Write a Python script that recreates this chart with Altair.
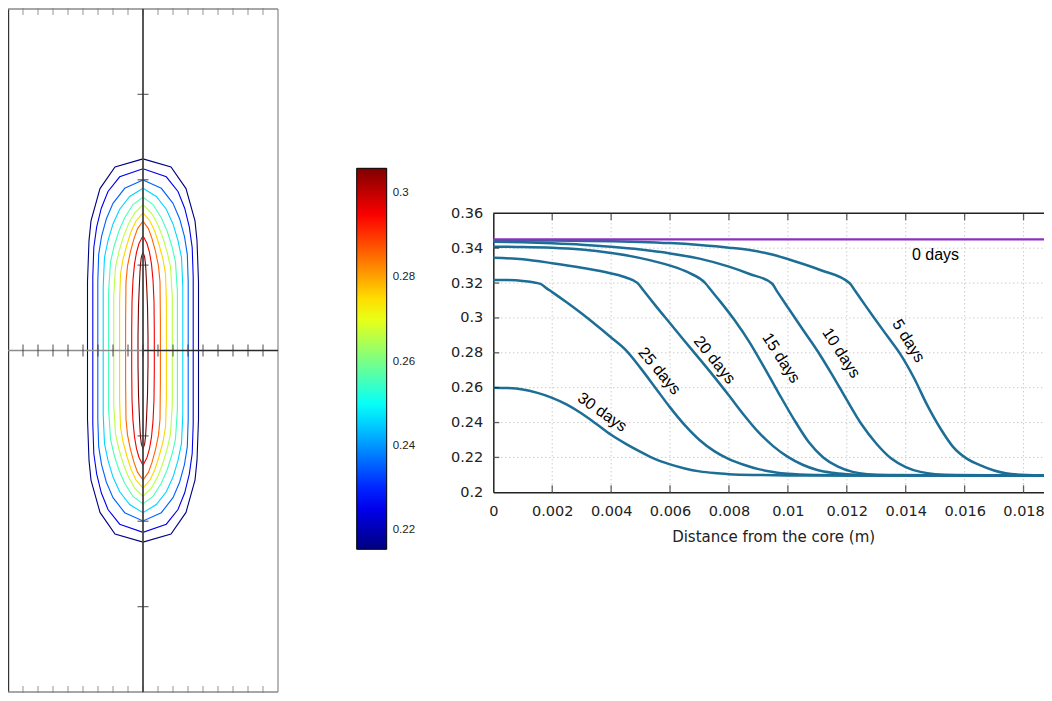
import altair as alt
import pandas as pd

# ================= right panel: profiles vs distance from the core =================
x_0d = [0.0, 0.019]
y_0d = [0.345, 0.345]

x_5d = [0.0, 0.002, 0.004, 0.005, 0.006, 0.007, 0.008, 0.0087, 0.0095, 0.0101, 0.0111, 0.0121, 0.0123,
        0.0125, 0.0129, 0.0134, 0.0138, 0.0143, 0.0147, 0.0152, 0.0156, 0.0161, 0.0165, 0.0170,
        0.0174, 0.0181, 0.019]
y_5d = [0.3445, 0.3444, 0.3440, 0.3436, 0.3429, 0.3418, 0.3403, 0.3389, 0.3362, 0.3332, 0.3275, 0.3199, 0.3151,
        0.3103, 0.3007, 0.2890, 0.2797, 0.2650, 0.2510, 0.2360, 0.2262, 0.2190, 0.2157, 0.2125,
        0.2109, 0.2099, 0.2096]

x_10d = [0.0, 0.001, 0.002, 0.003, 0.004, 0.005, 0.006, 0.007, 0.008, 0.0087, 0.00945, 0.00965,
         0.0100, 0.0105, 0.0110, 0.0115, 0.0120, 0.0125, 0.0130, 0.0135, 0.0140, 0.0145, 0.0150,
         0.0157, 0.019]
y_10d = [0.3437, 0.3434, 0.3428, 0.3420, 0.3408, 0.3392, 0.3370, 0.3340, 0.3294, 0.3252, 0.3199, 0.3148,
         0.3060, 0.2935, 0.2812, 0.2675, 0.2530, 0.2390, 0.2280, 0.2195, 0.2145, 0.2117, 0.2104,
         0.2099, 0.2096]

x_15d = [0.0, 0.001, 0.002, 0.003, 0.004, 0.005, 0.006, 0.0066, 0.0072, 0.0074,
         0.0077, 0.0082, 0.0087, 0.0092, 0.0097, 0.0102, 0.0107, 0.0112, 0.0117, 0.0122, 0.0127,
         0.0134, 0.019]
y_15d = [0.3408, 0.3407, 0.3403, 0.3392, 0.3372, 0.3343, 0.3300, 0.3262, 0.3199, 0.3157,
         0.3095, 0.2985, 0.2860, 0.2715, 0.2565, 0.2420, 0.2290, 0.2200, 0.2147, 0.2117, 0.2104,
         0.2099, 0.2096]

x_20d = [0.0, 0.001, 0.002, 0.003, 0.004, 0.0045, 0.0049, 0.0051, 0.0055, 0.006, 0.0065, 0.007, 0.0075,
         0.008, 0.0085, 0.009, 0.0095, 0.010, 0.0105, 0.011, 0.0115, 0.012, 0.013, 0.019]
y_20d = [0.3345, 0.3336, 0.3314, 0.3288, 0.3255, 0.3232, 0.3199, 0.3157, 0.3072, 0.2969, 0.2866, 0.2765, 0.2662,
         0.2555, 0.2445, 0.2345, 0.2265, 0.2203, 0.2158, 0.2128, 0.2112, 0.2104, 0.2098, 0.2096]

x_25d = [0.0, 0.0005, 0.001, 0.0016, 0.0018, 0.002, 0.0025, 0.003, 0.0035, 0.004, 0.0045, 0.005, 0.0055,
         0.006, 0.0065, 0.007, 0.0075, 0.008, 0.0085, 0.009, 0.0095, 0.010, 0.011, 0.012, 0.019]
y_25d = [0.3218, 0.3217, 0.3212, 0.3195, 0.3171, 0.3148, 0.3088, 0.3025, 0.2958, 0.2888, 0.2815, 0.2712, 0.2600,
         0.2487, 0.2385, 0.2300, 0.2236, 0.2190, 0.2158, 0.2133, 0.2117, 0.2106, 0.2099, 0.2097, 0.2096]

x_30d = [0.0, 0.0005, 0.001, 0.0015, 0.002, 0.0025, 0.003, 0.0035, 0.004, 0.0045, 0.005, 0.0055,
         0.006, 0.0065, 0.007, 0.0075, 0.008, 0.009, 0.010, 0.012, 0.019]
y_30d = [0.2600, 0.2598, 0.2590, 0.2570, 0.2542, 0.2503, 0.2452, 0.2392, 0.2330, 0.2278, 0.2232, 0.2190,
         0.2160, 0.2137, 0.2120, 0.2110, 0.2104, 0.2099, 0.2097, 0.2096, 0.2096]

x_ticks = [0.0, 0.002, 0.004, 0.006, 0.008, 0.010, 0.012, 0.014, 0.016, 0.018]
y_ticks = [0.20, 0.22, 0.24, 0.26, 0.28, 0.30, 0.32, 0.34, 0.36]
x_domain = [0.0, 0.019]
y_domain = [0.20, 0.36]

label_text = ["30 days", "25 days", "20 days", "15 days", "10 days", "5 days", "0 days"]
label_x = [0.00370, 0.00564, 0.00751, 0.00977, 0.01181, 0.01409, 0.01501]
label_y = [0.2459, 0.2696, 0.2759, 0.2770, 0.2799, 0.2868, 0.3358]
label_angle = [35, 50, 51, 57, 57, 58, 0]

# ================= colour bar =================
cbar_min, cbar_max = 0.2154, 0.3059
cbar_ticks = [0.22, 0.24, 0.26, 0.28, 0.30]
jet_t = [0.0, 0.125, 0.375, 0.625, 0.875, 1.0]
jet_colors = ["#000080", "#0000ff", "#00ffff", "#ffff00", "#ff0000", "#800000"]

# ================= left panel: contour lines (one quadrant each, mirrored) =================
contour_levels = [0.2154, 0.2255, 0.2355, 0.2456, 0.2556, 0.2657, 0.2757, 0.2858, 0.2958, 0.3059]
contour_dx = [
    [0, 28, 43, 52, 54, 55.5, 55.5],
    [0, 23.3, 35, 41.7, 46.3, 49.2, 50.2, 50.2],
    [0, 18.3, 30, 36.7, 41.5, 44.3, 45.2, 45.2],
    [0, 13.3, 23.3, 30, 35, 38.5, 39.8, 39.8],
    [0, 10, 18.3, 24, 29, 32.5, 34.4, 34.4],
    [0, 8.3, 14.5, 19.5, 24, 27.5, 29.3, 29.3],
    [0, 7, 12, 16, 20, 22.5, 23.4, 23.4],
    [0, 5.5, 9, 12.5, 15.5, 17, 17.4, 17.4],
    [0, 4, 6.5, 8.5, 10, 11, 11.3, 11.3],
    [0, 1.7, 2.5, 3, 3.7, 4.5, 5, 5],
]
contour_dy = [
    [195.3, 187, 165, 132, 112, 70, 0],
    [185.3, 177, 162, 145, 126, 105, 75, 0],
    [173.7, 165.3, 150, 134, 116, 98, 70, 0],
    [165.3, 157, 144, 129, 112, 95, 65, 0],
    [156.3, 148.7, 135.3, 122, 106, 90, 60, 0],
    [148.7, 140.3, 129, 116, 101, 85, 55, 0],
    [140.3, 132, 121, 108, 93, 78, 50, 0],
    [132, 124, 114, 101, 86, 70, 30, 0],
    [117, 109, 100, 88, 72, 50, 20, 0],
    [100.3, 95, 88, 80, 65, 45, 15, 0],
]
panel_x = [-135, 135]
panel_y = [-348, 348]
edge_ticks = [-120, -105, -90, -75, -60, -45, -30, -15, 0, 15, 30, 45, 60, 75, 90, 105, 120]
axis_y_ticks = [-261, -174, -87, 87, 174, 261]

# ================= layout (pixels inside the view) =================
W, H = 1036, 685
R_XL, R_YL = [0, 270], [684, 1]
R_XR, R_YR = [485.3, 1045], [484.3, 205.3]
R_XC, R_YC = [348.7, 378.7], [541.3, 160.3]


def scale(domain, rng):
    return alt.Scale(domain=domain, range=rng, nice=False, zero=False)


def ex(field, domain, rng, axis=None):
    return alt.X(field, type="quantitative", scale=scale(domain, rng), axis=axis)


def ey(field, domain, rng, axis=None):
    return alt.Y(field, type="quantitative", scale=scale(domain, rng), axis=axis)


def xr(f, axis=None):
    return ex(f, x_domain, R_XR, axis)


def yr(f, axis=None):
    return ey(f, y_domain, R_YR, axis)


def xl(f):
    return ex(f, panel_x, R_XL)


def yl(f):
    return ey(f, panel_y, R_YL)


def xc(f):
    return ex(f, [0, 1], R_XC)


def yc(f):
    return ey(f, [cbar_min, cbar_max], R_YC)


layers = []

# ---------- left panel ----------
rows = []
for lid, (lev, dxs, dys) in enumerate(zip(contour_levels, contour_dx, contour_dy)):
    q = list(zip(dxs, dys))
    loop = (q + [(dx, -dy) for dx, dy in reversed(q[:-1])]
            + [(-dx, -dy) for dx, dy in q[1:]]
            + [(-dx, dy) for dx, dy in reversed(q[:-1])])
    for i, (px, py) in enumerate(loop):
        rows.append({"lid": lid, "level": lev, "idx": i, "x": px, "y": py})
contour_df = pd.DataFrame(rows)

jet_domain = [cbar_min + t * (cbar_max - cbar_min) for t in jet_t]
color_scale = alt.Scale(type="linear", domain=jet_domain, range=jet_colors, interpolate="rgb")
legend = alt.Legend(orient="none", legendX=R_XC[0], legendY=R_YC[1], direction="vertical",
                    gradientLength=R_YC[0] - R_YC[1], gradientThickness=R_XC[1] - R_XC[0],
                    gradientStrokeColor="#000000", gradientStrokeWidth=1,
                    values=cbar_ticks, format=".2~f", labelFont="Liberation Sans",
                    labelFontSize=11.5, labelColor="#222222", labelOffset=6, title=None, padding=0)

layers.append(
    alt.Chart(contour_df).mark_line(strokeWidth=1.1).encode(
        x=xl("x"), y=yl("y"), order=alt.Order("idx:Q"), detail="lid:N",
        color=alt.Color("level:Q", scale=color_scale, legend=legend))
)

# frame of the left panel
frame_specs = [
    ({"x": [panel_x[0]], "y0": [panel_y[0]], "y1": [panel_y[1]]}, "#333333", "v", 2.4),
    ({"x": [panel_x[1]], "y0": [panel_y[0]], "y1": [panel_y[1]]}, "#a0a0a0", "v", 1.5),
    ({"y": [panel_y[1]], "x0": [panel_x[0]], "x1": [panel_x[1]]}, "#8a8a8a", "h", 1.5),
    ({"y": [panel_y[0]], "x0": [panel_x[0]], "x1": [panel_x[1]]}, "#8a8a8a", "h", 1.5),
]
for d, col, kind, sw in frame_specs:
    c = alt.Chart(pd.DataFrame(d)).mark_rule(color=col, strokeWidth=sw)
    if kind == "v":
        layers.append(c.encode(x=xl("x"), y=yl("y0"), y2="y1"))
    else:
        layers.append(c.encode(y=yl("y"), x=xl("x0"), x2="x1"))

# edge ticks (top / bottom)
for yy in panel_y:
    layers.append(
        alt.Chart(pd.DataFrame({"x": edge_ticks, "y": yy})).mark_tick(
            orient="vertical", size=12, thickness=1.2, color="#808080").encode(x=xl("x"), y=yl("y"))
    )

# crosshair
layers.append(
    alt.Chart(pd.DataFrame({"y": [0], "x0": [panel_x[0]], "x1": [0]})).mark_rule(
        color="#8c8c8c", strokeWidth=1.6).encode(y=yl("y"), x=xl("x0"), x2="x1"))
layers.append(
    alt.Chart(pd.DataFrame({"y": [0], "x0": [0], "x1": [panel_x[1]]})).mark_rule(
        color="#2a2a2a", strokeWidth=1.4).encode(y=yl("y"), x=xl("x0"), x2="x1"))
layers.append(
    alt.Chart(pd.DataFrame({"x": [0], "y0": [panel_y[0]], "y1": [panel_y[1]]})).mark_rule(
        color="#444444", strokeWidth=1.8).encode(x=xl("x"), y=yl("y0"), y2="y1"))
layers.append(
    alt.Chart(pd.DataFrame({"x": edge_ticks, "y": 0})).mark_tick(
        orient="vertical", size=12, thickness=1.3, color="#3a3a3a").encode(x=xl("x"), y=yl("y")))
layers.append(
    alt.Chart(pd.DataFrame({"x": 0, "y": axis_y_ticks})).mark_tick(
        orient="horizontal", size=11, thickness=1.3, color="#333333").encode(x=xl("x"), y=yl("y")))

# ---------- colour bar tick marks ----------
layers.append(
    alt.Chart(pd.DataFrame({"x": 0, "y": cbar_ticks})).mark_tick(
        orient="horizontal", size=3, thickness=1, xOffset=1.5, color="#000000").encode(x=xc("x"), y=yc("y")))
layers.append(
    alt.Chart(pd.DataFrame({"x": 1, "y": cbar_ticks})).mark_tick(
        orient="horizontal", size=3, thickness=1, xOffset=-1.5, color="#000000").encode(x=xc("x"), y=yc("y")))

# ---------- right panel ----------
grid_style = dict(color="#b4b4b4", strokeWidth=1, strokeDash=[1, 3])
layers.append(
    alt.Chart(pd.DataFrame({"x": x_ticks[1:], "y0": y_domain[0], "y1": y_domain[1]})).mark_rule(
        **grid_style).encode(x=xr("x"), y=yr("y0"), y2="y1"))
layers.append(
    alt.Chart(pd.DataFrame({"y": y_ticks[1:-1], "x0": x_domain[0], "x1": x_domain[1]})).mark_rule(
        **grid_style).encode(y=yr("y"), x=xr("x0"), x2="x1"))

curves = []
for name, xs, ys in [("5 days", x_5d, y_5d), ("10 days", x_10d, y_10d), ("15 days", x_15d, y_15d),
                     ("20 days", x_20d, y_20d), ("25 days", x_25d, y_25d), ("30 days", x_30d, y_30d)]:
    curves.append(pd.DataFrame({"series": name, "x": xs, "y": ys}))
curves_df = pd.concat(curves, ignore_index=True)

x_axis = alt.Axis(orient="bottom", offset=R_YR[0] - H, values=x_ticks, format=".3~f", ticks=False,
                  grid=False, domainColor="#222222", domainWidth=1.5, labelFont="DejaVu Sans",
                  labelFontSize=14.5, labelColor="#222222", labelPadding=12, labelFlush=False,
                  labelOverlap=False, title="Distance from the core (m)", titleFont="DejaVu Sans",
                  titleFontSize=15, titleFontWeight="normal", titleColor="#222222", titleY=49,
                  titleBaseline="alphabetic")
y_axis = alt.Axis(orient="left", offset=-R_XR[0], values=y_ticks, format=".2~f", ticks=False,
                  grid=False, domainColor="#222222", domainWidth=1.5, labelFont="DejaVu Sans",
                  labelFontSize=14.5, labelColor="#222222", labelPadding=10.5, labelFlush=False,
                  labelOverlap=False, title=None)

layers.append(
    alt.Chart(curves_df).mark_line(color="#1c6e96", strokeWidth=2.5, interpolate="monotone").encode(
        x=xr("x", x_axis), y=yr("y", y_axis), detail="series:N")
)
layers.append(
    alt.Chart(pd.DataFrame({"x": x_0d, "y": y_0d})).mark_line(color="#8e2fc2", strokeWidth=2.2).encode(
        x=xr("x"), y=yr("y"))
)

# frame top / right
layers.append(
    alt.Chart(pd.DataFrame({"y": [y_domain[1]], "x0": [x_domain[0]], "x1": [x_domain[1]]})).mark_rule(
        color="#222222", strokeWidth=1.5).encode(y=yr("y"), x=xr("x0"), x2="x1"))
layers.append(
    alt.Chart(pd.DataFrame({"x": [x_domain[1]], "y0": [y_domain[0]], "y1": [y_domain[1]]})).mark_rule(
        color="#222222", strokeWidth=1.5).encode(x=xr("x"), y=yr("y0"), y2="y1"))

# inward ticks
tick_style = dict(color="#222222", thickness=1.3)
layers.append(alt.Chart(pd.DataFrame({"x": x_ticks[1:], "y": y_domain[0]})).mark_tick(
    orient="vertical", size=7, yOffset=-3.5, **tick_style).encode(x=xr("x"), y=yr("y")))
layers.append(alt.Chart(pd.DataFrame({"x": x_ticks[1:], "y": y_domain[1]})).mark_tick(
    orient="vertical", size=7, yOffset=3.5, **tick_style).encode(x=xr("x"), y=yr("y")))
layers.append(alt.Chart(pd.DataFrame({"x": x_domain[0], "y": y_ticks[1:-1]})).mark_tick(
    orient="horizontal", size=6, xOffset=3, **tick_style).encode(x=xr("x"), y=yr("y")))
layers.append(alt.Chart(pd.DataFrame({"x": x_domain[1], "y": y_ticks[1:-1]})).mark_tick(
    orient="horizontal", size=6, xOffset=-3, **tick_style).encode(x=xr("x"), y=yr("y")))

# curve labels
for t, lx, ly, ang in zip(label_text, label_x, label_y, label_angle):
    layers.append(
        alt.Chart(pd.DataFrame({"x": [lx], "y": [ly], "t": [t]})).mark_text(
            angle=ang, font="Liberation Sans", fontSize=16, color="#000000",
            align="center", baseline="middle").encode(x=xr("x"), y=yr("y"), text="t:N")
    )

chart = (
    alt.layer(*layers)
    .resolve_scale(x="independent", y="independent")
    .properties(width=W, height=H, padding=0, autosize="none", background="white")
    .configure_view(strokeWidth=0)
)

chart.save("out.html", embed_options={"renderer": "svg", "actions": False})
